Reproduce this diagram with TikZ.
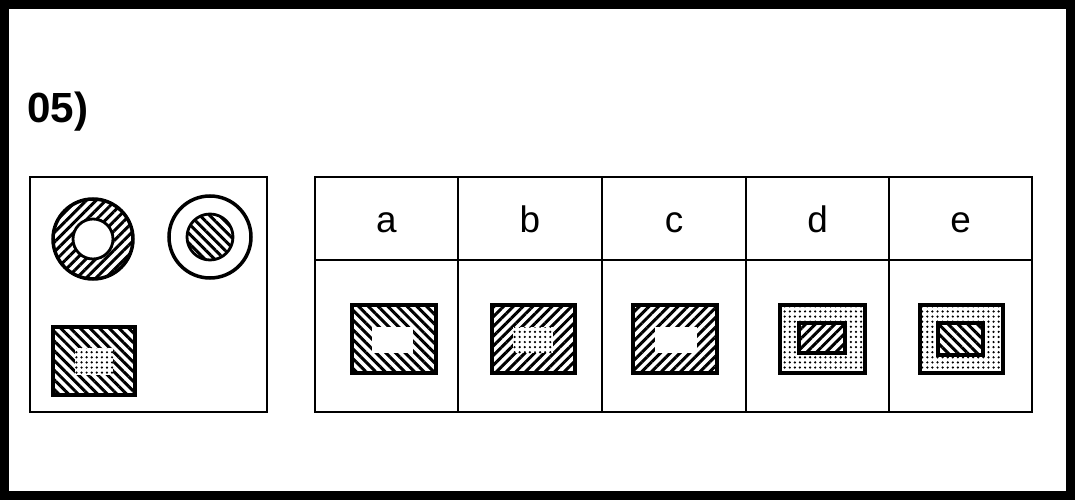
\documentclass[tikz,border=0pt]{standalone}
\usepackage{fontspec}
\setsansfont{Liberation Sans}
\usetikzlibrary{patterns.meta}
\begin{document}
\begin{tikzpicture}[
        x=0.02cm, y=-0.02cm,
        font=\sffamily,
        frame/.style={draw=black, line width=0.8pt},
        edge/.style={draw=black, line width=2pt},
        nehatch/.style={pattern={Lines[angle=45, distance=3.9pt, line width=1.7pt]}},
        nwhatch/.style={pattern={Lines[angle=-45, distance=3.9pt, line width=1.7pt]}},
        dotfill/.style={pattern={Dots[distance=2.9pt, radius=0.7pt]}},
        letter/.style={font=\fontsize{21}{25}\selectfont\sffamily, anchor=base}
    ]
    % black border of the scan
    \fill[black] (0,0) rectangle (1075,500);
    \fill[white] (9,9) rectangle (1066,491);
    % number of the task
    \node[font=\fontsize{24}{28}\selectfont\sffamily\bfseries, anchor=base west, inner sep=0pt] (num) at (27,123) {05)};
    % box with the model figures
    \draw[frame] (30,177) rectangle (267,412);
    \fill[nehatch, even odd rule] (93,239) circle (40) (93,239) circle (20);
    \draw[edge] (93,239) circle (40);
    \draw[line width=1.6pt] (93,239) circle (20);
    \draw[edge] (210,237) circle (41);
    \draw[nwhatch, line width=1.6pt] (210,237) circle (23);
    \fill[nwhatch] (53,327) rectangle (135,395);
    \fill[white] (75,348) rectangle (113,375);
    \fill[dotfill] (75,348) rectangle (113,375);
    \draw[edge] (53,327) rectangle (135,395);
    % table of the answers
    \draw[frame] (315,177) rectangle (1032,412);
    \draw[frame] (315,260) -- (1032,260);
    \foreach \cx in {458,602,746,889}
        \draw[frame] (\cx,177) -- (\cx,412);
    \node[letter] (la) at (386.5,232) {a};
    \node[letter] (lb) at (530,232) {b};
    \node[letter] (lc) at (674,232) {c};
    \node[letter] (ld) at (817.5,232) {d};
    \node[letter] (le) at (960.5,232) {e};
    % a
    \fill[nwhatch] (352,305) rectangle (436,373);
    \fill[white] (372,327) rectangle (413,353);
    \draw[edge] (352,305) rectangle (436,373);
    % b
    \fill[nehatch] (492,305) rectangle (575,373);
    \fill[white] (513,327) rectangle (553,353);
    \fill[dotfill] (513,327) rectangle (553,353);
    \draw[edge] (492,305) rectangle (575,373);
    % c
    \fill[nehatch] (633,305) rectangle (717,373);
    \fill[white] (655,327) rectangle (697,353);
    \draw[edge] (633,305) rectangle (717,373);
    % d
    \fill[dotfill] (780,305) rectangle (865,373);
    \fill[white] (799,323) rectangle (845,353);
    \draw[edge, nehatch] (799,323) rectangle (845,353);
    \draw[edge] (780,305) rectangle (865,373);
    % e
    \fill[dotfill] (920,305) rectangle (1003,373);
    \fill[white] (938,323) rectangle (983,355);
    \draw[edge, nwhatch] (938,323) rectangle (983,355);
    \draw[edge] (920,305) rectangle (1003,373);
\end{tikzpicture}
\end{document}
